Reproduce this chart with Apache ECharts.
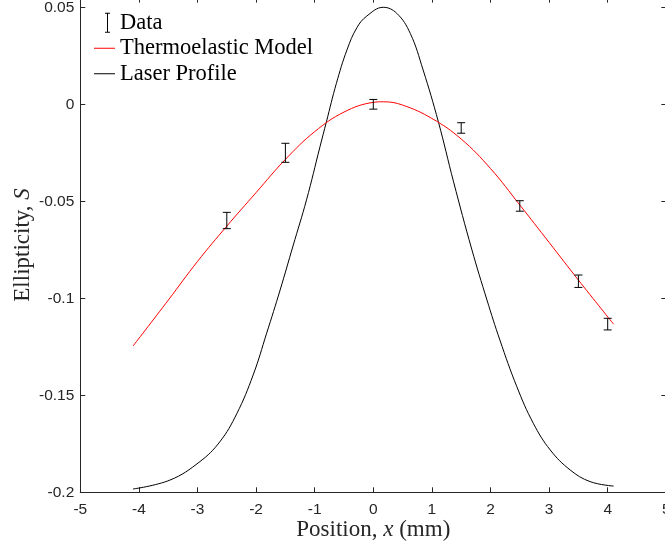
<!DOCTYPE html>
<html>
<head>
<meta charset="utf-8">
<title>Ellipticity vs position</title>
<script src="https://cdn.jsdelivr.net/npm/echarts@6/dist/echarts.min.js"></script>
<style>
  html, body { margin: 0; padding: 0; background: #ffffff; }
  #chart { width: 665px; height: 550px; }
</style>
</head>
<body>
<div id="chart"></div>
<script>
// Measured ellipticity with error bars
const dataX   = [-2.5, -1.5, 0, 1.5, 2.5, 3.5, 4];
const dataY   = [-0.0599, -0.0250, 0.0000, -0.0122, -0.0524, -0.0912, -0.1133];
const dataErr = [0.0042, 0.0049, 0.0025, 0.0027, 0.0027, 0.0032, 0.0030];

// Thermoelastic model curve
const modelX = [-4.1, -3.5, -3.0, -2.5, -2.0, -1.5, -1.0, -0.5, 0, 0.17, 0.5, 1.0, 1.5, 2.0, 2.5, 3.0, 3.5, 4.1];
const modelY = [-0.1246, -0.1010, -0.0810, -0.0628, -0.0455, -0.0284, -0.0141, -0.0040, 0.0010, 0.0013,
                -0.0004, -0.0073, -0.0179, -0.0331, -0.0519, -0.0712, -0.0906, -0.1133];

// Laser intensity profile (scaled onto the ellipticity axis)
const laserX = [-4.1, -3.47, -2.96, -2.62, -2.33, -2.05, -1.82, -1.59, -1.37, -1.14, -0.91, -0.80, -0.63,
                -0.45, -0.28, -0.11, 0.17, 0.40, 0.63, 0.85, 1.11, 1.37, 1.68, 1.94, 2.16, 2.45, 2.73,
                3.02, 3.36, 3.70, 4.1];
const laserY = [-0.1983, -0.1937, -0.1842, -0.1740, -0.1595, -0.1395, -0.1180, -0.0957, -0.0730, -0.0493,
                -0.0219, -0.0090, 0.0108, 0.0280, 0.0395, 0.0455, 0.0500, 0.0469, 0.0366, 0.0177,
                -0.0090, -0.0400, -0.0747, -0.1009, -0.1215, -0.1456, -0.1644, -0.1782, -0.1885,
                -0.1945, -0.1968];

// Axis ticks
const xTicks = [-5, -4, -3, -2, -1, 0, 1, 2, 3, 4, 5];
const yTicks = [-0.2, -0.15, -0.1, -0.05, 0, 0.05];

const axisColor = '#262626';
const serif = '"Liberation Serif", "Times New Roman", serif';
const sans = '"Liberation Sans", Arial, Helvetica, sans-serif';

const zip = (xs, ys) => xs.map((x, i) => [x, ys[i]]);

// Legend glyphs: an I-beam for the error-bar series, a short rule for the curves
const errIcon = 'path://M0,9.9H0.02V10.1H0Z M21,9.9H20.98V10.1H21Z ' +
                'M11,0H16V1H14V19H16V20H11V19H13V1H11Z';
const lineIcon = 'path://M0,9.5H21V10.5H0Z';

const chart = echarts.init(document.getElementById('chart'), null, { renderer: 'canvas' });

const xAxisBase = {
  type: 'value', min: -5, max: 5, interval: 1,
  splitLine: { show: false },
  axisLine: { show: true, onZero: false, lineStyle: { color: axisColor, width: 1 } },
  axisTick: { show: true, inside: true, length: 5, customValues: xTicks,
              lineStyle: { color: axisColor, width: 1 } }
};
const yAxisBase = {
  type: 'value', min: -0.2, max: 0.055, interval: 0.05,
  splitLine: { show: false },
  axisLine: { show: true, onZero: false, lineStyle: { color: axisColor, width: 1 } },
  axisTick: { show: true, inside: true, length: 5, customValues: yTicks,
              lineStyle: { color: axisColor, width: 1 } }
};

const nameRich = {
  n: { fontFamily: serif, fontSize: 23, color: axisColor },
  i: { fontFamily: serif, fontSize: 23, fontStyle: 'italic', color: axisColor }
};

chart.setOption({
  animation: false,
  backgroundColor: '#ffffff',
  grid: { left: 80.3, top: -2.4, width: 586, height: 494.7, containLabel: false, outerBoundsMode: 'none' },
  legend: {
    orient: 'vertical', left: 94, top: 10, padding: 0, itemGap: 0,
    itemWidth: 21, itemHeight: 20, selectedMode: false,
    textStyle: { fontFamily: serif, fontSize: 22.5, color: '#000000', lineHeight: 25.5 },
    data: [
      { name: 'Data', icon: errIcon, itemStyle: { color: '#000000' } },
      { name: 'Thermoelastic Model', icon: lineIcon, itemStyle: { color: '#ff0000' } },
      { name: 'Laser Profile', icon: lineIcon, itemStyle: { color: '#000000' } }
    ]
  },
  xAxis: [
    Object.assign({}, xAxisBase, {
      position: 'bottom',
      axisLabel: { show: true, margin: 9, color: axisColor, fontFamily: sans, fontSize: 15.5,
                   customValues: xTicks },
      name: '{n|Position, }{i|x}{n| (mm)}',
      nameLocation: 'middle', nameGap: 26, nameMoveOverlap: false,
      nameTextStyle: { rich: nameRich }
    }),
    Object.assign({}, xAxisBase, { position: 'top', axisLabel: { show: false } })
  ],
  yAxis: [
    Object.assign({}, yAxisBase, {
      position: 'left',
      axisLabel: { show: true, margin: 6, color: axisColor, fontFamily: sans, fontSize: 15.5,
                   customValues: yTicks },
      name: '{n|Ellipticity, }{i|S}',
      nameLocation: 'middle', nameGap: 46, nameRotate: 90, nameMoveOverlap: false,
      nameTextStyle: { rich: nameRich }
    }),
    Object.assign({}, yAxisBase, { position: 'right', axisLabel: { show: false } })
  ],
  series: [
    {
      name: 'Data',
      type: 'custom',
      xAxisIndex: 0, yAxisIndex: 0,
      itemStyle: { color: '#000000' },
      encode: { x: 0, y: 1 },
      data: dataX.map((x, i) => [x, dataY[i], dataErr[i]]),
      z: 4,
      renderItem: function (params, api) {
        const x = api.value(0), y = api.value(1), e = api.value(2);
        const top = api.coord([x, y + e]);
        const bot = api.coord([x, y - e]);
        const hw = 4;
        const st = { stroke: '#000000', lineWidth: 1 };
        return {
          type: 'group',
          children: [
            { type: 'line', shape: { x1: top[0], y1: top[1], x2: bot[0], y2: bot[1] }, style: st },
            { type: 'line', shape: { x1: top[0] - hw, y1: top[1], x2: top[0] + hw, y2: top[1] }, style: st },
            { type: 'line', shape: { x1: bot[0] - hw, y1: bot[1], x2: bot[0] + hw, y2: bot[1] }, style: st }
          ]
        };
      }
    },
    {
      name: 'Thermoelastic Model',
      type: 'line',
      xAxisIndex: 0, yAxisIndex: 0,
      data: zip(modelX, modelY),
      smooth: 0.4,
      symbol: 'none',
      lineStyle: { color: '#ff0000', width: 1 },
      itemStyle: { color: '#ff0000' },
      z: 3
    },
    {
      name: 'Laser Profile',
      type: 'line',
      xAxisIndex: 0, yAxisIndex: 0,
      data: zip(laserX, laserY),
      smooth: 0.4,
      symbol: 'none',
      lineStyle: { color: '#000000', width: 1 },
      itemStyle: { color: '#000000' },
      z: 2
    }
  ]
});
</script>
</body>
</html>
